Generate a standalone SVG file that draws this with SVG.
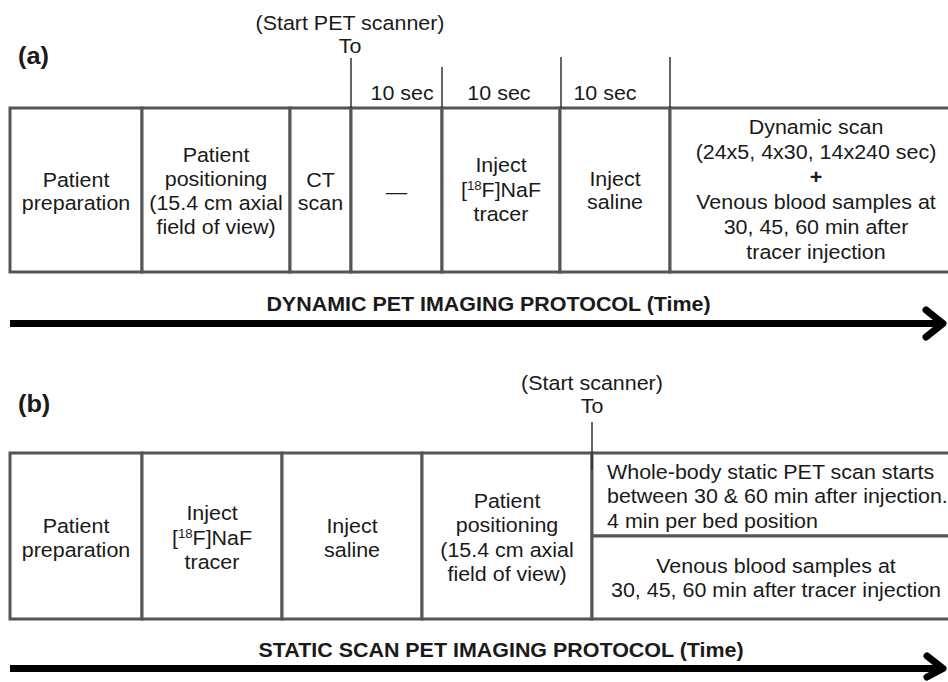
<svg xmlns="http://www.w3.org/2000/svg" width="948" height="682" viewBox="0 0 948 682">
<style>
text{font-family:"Liberation Sans",Arial,sans-serif;font-size:19.5px;fill:#1a1a1a;text-anchor:middle}
.b{font-weight:bold}
.lab{font-size:23px;text-anchor:start}
.cell{fill:#fff;stroke:#555;stroke-width:3}
.tick{stroke:#333;stroke-width:1.5;fill:none}
.arr{stroke:#000;stroke-width:7;fill:none;stroke-linecap:round;stroke-linejoin:round}
.sup{font-size:12px}
</style>
<rect width="948" height="682" fill="#fff"/>

<!-- Panel (a) -->
<g id="label-a" transform="translate(18,0) scale(1.1,1)"><text class="b lab" x="0" y="64">(a)</text></g>
<g id="start-pet" transform="translate(350,0) scale(1.1,1)">
<text x="0" y="30">(Start PET scanner)</text>
<text x="0" y="53">To</text>
</g>
<g id="durations" transform="scale(1.1,1)">
<text x="365.5" y="100">10 sec</text>
<text x="453.6" y="100">10 sec</text>
<text x="550" y="100">10 sec</text>
</g>

<g id="a-prep"><rect class="cell" x="10" y="108" width="132" height="164"/>
<g transform="translate(76,0) scale(1.1,1)"><text x="0" y="187">Patient</text><text x="0" y="210">preparation</text></g></g>
<g id="a-position"><rect class="cell" x="142" y="108" width="148" height="164"/>
<g transform="translate(216,0) scale(1.1,1)"><text x="0" y="162">Patient</text><text x="0" y="186">positioning</text><text x="0" y="210">(15.4 cm axial</text><text x="0" y="234">field of view)</text></g></g>
<g id="a-ct"><rect class="cell" x="290" y="108" width="61" height="164"/>
<g transform="translate(320.5,0) scale(1.1,1)"><text x="0" y="187">CT</text><text x="0" y="210">scan</text></g></g>
<g id="a-wait"><rect class="cell" x="351" y="108" width="91" height="164"/>
<g transform="translate(396.5,0) scale(1.1,1)"><text x="0" y="199">—</text></g></g>
<g id="a-tracer"><rect class="cell" x="442" y="108" width="118" height="164"/>
<g transform="translate(501,0) scale(1.1,1)"><text x="0" y="172">Inject</text><text x="0" y="197">[<tspan class="sup" dy="-7">18</tspan><tspan dy="7">F]NaF</tspan></text><text x="0" y="221">tracer</text></g></g>
<g id="a-saline"><rect class="cell" x="560" y="108" width="110" height="164"/>
<g transform="translate(615,0) scale(1.1,1)"><text x="0" y="186">Inject</text><text x="0" y="209">saline</text></g></g>
<g id="a-dynamic"><rect class="cell" x="670" y="108" width="290" height="164"/>
<g transform="translate(816,0) scale(1.1,1)"><text x="0" y="134">Dynamic scan</text><text x="0" y="159">(24x5, 4x30, 14x240 sec)</text><text class="b" x="0" y="184">+</text><text x="0" y="209">Venous blood samples at</text><text x="0" y="234">30, 45, 60 min after</text><text x="0" y="259">tracer injection</text></g></g>

<g id="title-a" transform="translate(488.5,0) scale(1.1,1)"><text class="b" x="0" y="311">DYNAMIC PET IMAGING PROTOCOL (Time)</text></g>

<!-- Panel (b) -->
<g id="label-b" transform="translate(18,0) scale(1.1,1)"><text class="b lab" x="0" y="412">(b)</text></g>
<g id="start-scanner" transform="translate(592,0) scale(1.1,1)">
<text x="0" y="390">(Start scanner)</text>
<text x="0" y="413">To</text>
</g>

<g id="b-prep"><rect class="cell" x="10" y="453" width="132" height="166"/>
<g transform="translate(76,0) scale(1.1,1)"><text x="0" y="533">Patient</text><text x="0" y="557">preparation</text></g></g>
<g id="b-tracer"><rect class="cell" x="142" y="453" width="140" height="166"/>
<g transform="translate(212,0) scale(1.1,1)"><text x="0" y="520">Inject</text><text x="0" y="545">[<tspan class="sup" dy="-7">18</tspan><tspan dy="7">F]NaF</tspan></text><text x="0" y="569">tracer</text></g></g>
<g id="b-saline"><rect class="cell" x="282" y="453" width="140" height="166"/>
<g transform="translate(352,0) scale(1.1,1)"><text x="0" y="533">Inject</text><text x="0" y="557">saline</text></g></g>
<g id="b-position"><rect class="cell" x="422" y="453" width="170" height="166"/>
<g transform="translate(507,0) scale(1.1,1)"><text x="0" y="508">Patient</text><text x="0" y="532">positioning</text><text x="0" y="557">(15.4 cm axial</text><text x="0" y="581">field of view)</text></g></g>
<g id="b-static"><rect class="cell" x="592" y="453" width="368" height="83"/>
<g transform="translate(607,0) scale(1.1,1)"><text style="text-anchor:start" x="0" y="479">Whole-body static PET scan starts</text><text style="text-anchor:start" x="0" y="503">between 30 &amp; 60 min after injection.</text><text style="text-anchor:start" x="0" y="528">4 min per bed position</text></g></g>
<g id="b-blood"><rect class="cell" x="592" y="536" width="368" height="83"/>
<g transform="translate(776,0) scale(1.1,1)"><text x="0" y="573">Venous blood samples at</text><text x="0" y="597">30, 45, 60 min after tracer injection</text></g></g>

<g id="title-b" transform="translate(501,0) scale(1.1,1)"><text class="b" x="0" y="657">STATIC SCAN PET IMAGING PROTOCOL (Time)</text></g>

<!-- connectors -->
<g id="connectors">
<line class="tick" x1="351" y1="58" x2="351" y2="108"/>
<line class="tick" x1="442" y1="67" x2="442" y2="108"/>
<line class="tick" x1="561" y1="57" x2="561" y2="108"/>
<line class="tick" x1="670" y1="57" x2="670" y2="108"/>
<line class="tick" x1="592" y1="422" x2="592" y2="470"/>
<line class="arr" x1="10" y1="323.5" x2="942" y2="323.5" style="stroke-linecap:butt"/>
<polyline class="arr" points="926,310 943,323.5 926,337"/>
<line class="arr" x1="10" y1="668.5" x2="942" y2="668.5" style="stroke-linecap:butt"/>
<polyline class="arr" points="927,656 943,668.5 927,677"/>
</g>
</svg>
